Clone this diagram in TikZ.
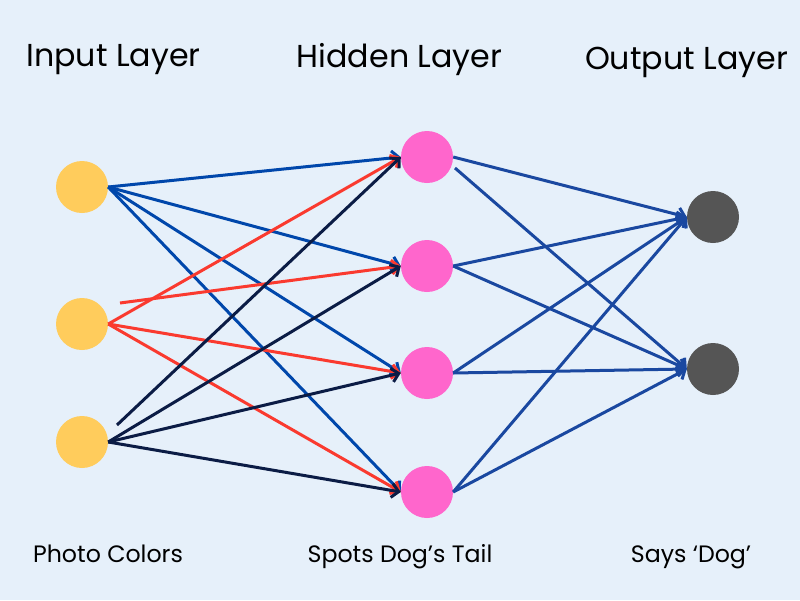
\documentclass[tikz,border=0pt]{standalone}
\usepackage{fontspec}
\setmainfont{Poppins}
\usetikzlibrary{arrows.meta}
\definecolor{bg}{HTML}{E6F0FA}
\definecolor{inyellow}{HTML}{FFCC5C}
\definecolor{hidpink}{HTML}{FF66CC}
\definecolor{outgray}{HTML}{555555}
\definecolor{lblue}{HTML}{0047AB}
\definecolor{lred}{HTML}{FA3A2F}
\definecolor{lnavy}{HTML}{0B1C45}
\definecolor{lblueb}{HTML}{1A48A0}
\tikzset{
  neuron/.style={circle, inner sep=0pt, minimum size=52pt, draw=none},
  conn/.style={line width=3pt, -{Straight Barb[length=7pt,width=14pt,line width=3pt]}},
  title/.style={font=\fontsize{31.7}{38}\selectfont, anchor=base, inner sep=0pt},
  caption/.style={font=\fontsize{23.7}{28}\selectfont, anchor=base, inner sep=0pt}
}
\begin{document}
\begin{tikzpicture}[x=1pt,y=-1pt]
\fill[bg] (0,0) rectangle (800,600);
\useasboundingbox (0,0) rectangle (800,600);
% titles
\node[title] (tin) at (113.5,66) {Input Layer};
\node[title] (thid) at (399.5,67.5) {Hidden Layer};
\node[title] (tout) at (686.5,69) {Output Layer};
% captions
\node[caption] (cin) at (108,562) {Photo Colors};
\node[caption] (chid) at (400,562) {Spots Dog’s Tail};
\node[caption] (cout) at (691,562) {Says ‘Dog’};
% neurons
\node[neuron, fill=inyellow] (i1) at (82,187) {};
\node[neuron, fill=inyellow] (i2) at (82,324) {};
\node[neuron, fill=inyellow] (i3) at (82,442) {};
\node[neuron, fill=hidpink] (h1) at (427,157) {};
\node[neuron, fill=hidpink] (h2) at (427,266) {};
\node[neuron, fill=hidpink] (h3) at (427,373) {};
\node[neuron, fill=hidpink] (h4) at (427,492) {};
\node[neuron, fill=outgray] (o1) at (713,217) {};
\node[neuron, fill=outgray] (o2) at (713,369) {};
\coordinate (r2s) at (120,303);
\coordinate (n1s) at (117,425);
\coordinate (h1s) at (455,168);
% input 1 connections
\foreach \h in {h1,h2,h3,h4}
  \draw[conn, lblue] (i1.east) -- (\h.west);
% input 2 connections
\foreach \h in {h1,h3,h4}
  \draw[conn, lred] (i2.east) -- (\h.west);
\draw[conn, lred] (r2s) -- (h2.west);
% input 3 connections
\draw[conn, lnavy] (n1s) -- (h1.west);
\foreach \h in {h2,h3,h4}
  \draw[conn, lnavy] (i3.east) -- (\h.west);
% hidden to output
\draw[conn, lblueb] (h1.east) -- (o1.west);
\draw[conn, lblueb] (h1s) -- (o2.west);
\foreach \h in {h2,h3,h4}{
  \draw[conn, lblueb] (\h.east) -- (o1.west);
  \draw[conn, lblueb] (\h.east) -- (o2.west);
}
\end{tikzpicture}
\end{document}
